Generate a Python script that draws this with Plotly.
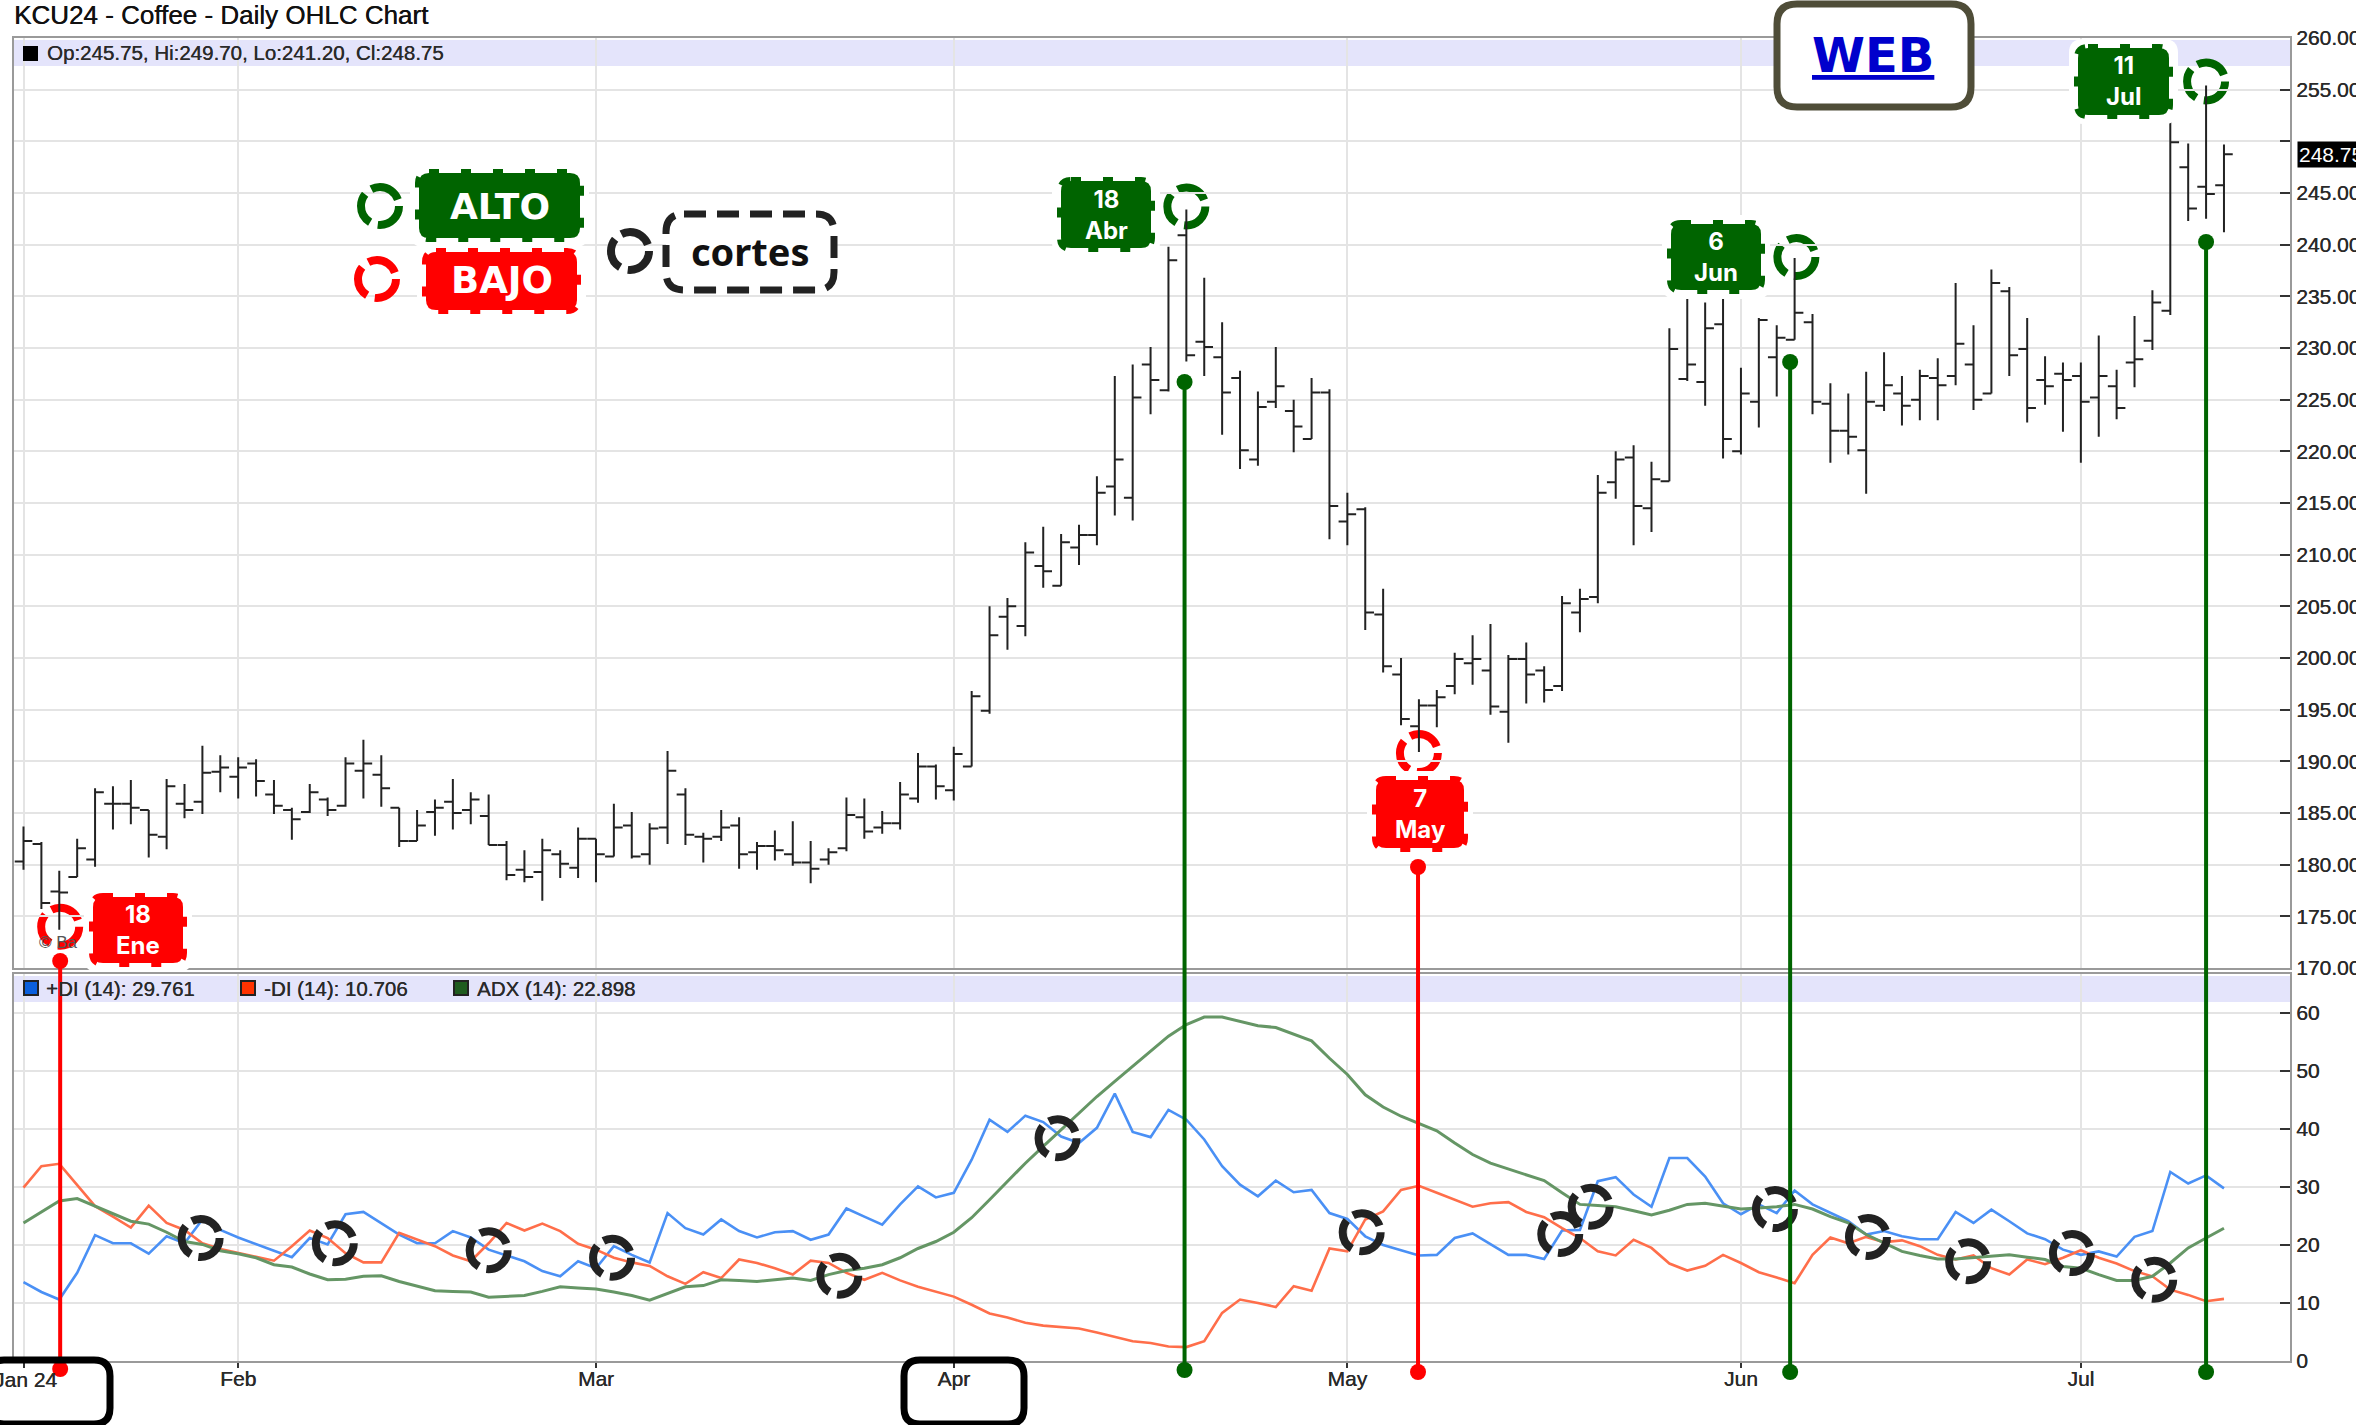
import plotly.graph_objects as go

W, H = 2356, 1425
L, R, T, B = 14, 2290, 38, 1361

title_text = "KCU24 - Coffee - Daily OHLC Chart"
quote_text = "Op:245.75, Hi:249.70, Lo:241.20, Cl:248.75"
last_price = 248.75

open_ = [180.3,182.0,177.4,178.8,180.5,185.9,185.9,185.3,182.7,185.9,
 186.1,189.0,188.5,189.8,186.8,185.3,185.1,186.3,185.7,189.1,
 188.7,185.5,182.3,185.1,186.1,185.3,184.7,181.9,179.5,179.3,
 181.0,179.7,182.5,180.8,183.8,181.0,183.6,186.8,182.7,182.7,
 183.8,181.2,181.8,181.0,180.2,180.5,181.6,184.6,183.6,184.0,
 186.4,189.5,187.2,189.5,194.9,204.0,203.1,208.9,207.0,210.7,
 211.9,216.6,215.5,228.4,225.9,240.9,230.6,229.1,227.1,219.2,
 224.8,223.9,221.2,225.7,213.2,214.4,204.2,198.4,193.4,195.4,
 197.3,199.5,198.8,194.8,199.9,198.8,197.3,204.4,205.9,217.0,
 219.4,214.5,217.1,227.0,226.7,232.3,220.0,224.8,229.1,230.8,
 232.5,224.6,222.0,220.1,224.4,225.6,225.0,227.1,227.3,228.4,
 225.6,235.5,229.9,226.9,227.5,227.3,225.2,226.3,228.6,230.7,
 233.6,247.5,245.6,245.75]
high = [183.7,182.2,179.4,182.5,187.4,187.6,188.2,185.3,188.3,187.8,
 191.5,190.6,190.4,190.2,188.2,185.5,187.8,186.5,190.4,192.1,
 190.6,185.5,185.3,186.3,188.3,187.0,186.8,182.3,181.4,182.5,
 181.4,183.6,182.5,185.9,185.1,184.0,191.0,187.4,183.1,185.3,
 184.6,182.2,183.3,184.2,182.3,181.6,186.5,186.4,185.2,188.0,
 190.8,189.7,191.4,196.8,205.0,205.8,211.2,212.7,212.0,212.9,
 217.6,227.3,228.4,230.1,239.8,243.4,236.8,232.5,227.8,225.8,
 230.1,225.0,227.1,226.0,216.0,214.6,206.7,200.0,196.0,196.9,
 200.5,202.2,203.3,200.3,201.5,199.2,206.0,206.7,217.7,220.0,
 220.6,219.0,231.9,234.8,234.4,234.8,228.1,232.9,232.2,238.7,
 233.3,226.6,225.6,227.7,229.6,227.3,227.9,229.0,236.3,232.2,
 237.6,235.9,232.9,229.2,228.6,228.6,231.2,227.9,233.1,235.6,
 252.0,249.8,255.4,249.7]
low = [179.5,175.7,173.7,178.8,179.8,183.4,183.9,180.7,181.5,184.5,
 184.9,187.0,186.4,186.6,184.9,182.4,185.0,184.7,185.6,186.4,
 185.6,181.7,182.3,182.8,183.4,183.9,181.9,178.5,178.3,176.5,
 178.7,178.7,178.3,180.8,180.6,180.0,182.0,181.9,180.2,182.3,
 179.6,179.5,180.4,179.9,178.2,180.0,181.3,182.5,183.0,183.4,
 186.0,186.3,186.2,189.5,194.6,200.8,202.1,206.8,207.0,209.0,
 210.9,213.8,213.3,223.6,225.8,228.7,227.3,221.6,218.3,218.6,
 224.2,219.9,221.2,211.5,210.9,202.7,198.6,193.5,190.9,193.3,
 196.5,197.4,194.5,191.8,195.6,195.7,196.8,202.5,205.3,215.4,
 210.9,212.2,217.1,226.8,224.4,219.3,219.7,222.3,225.3,230.8,
 223.6,218.9,219.7,215.9,223.9,222.5,223.0,223.0,226.4,224.0,
 225.6,227.3,222.8,224.5,221.9,218.9,221.4,223.1,226.2,229.8,
 233.2,242.3,242.5,241.2]
close = [182.3,176.3,177.3,181.6,187.0,185.9,185.5,182.9,187.6,185.3,
 188.9,189.4,189.4,188.1,185.7,184.4,187.0,185.3,189.8,189.8,
 187.4,182.3,183.8,185.5,185.0,186.3,181.9,179.0,178.8,181.4,
 180.1,182.5,181.0,183.6,180.8,183.5,189.1,182.9,182.5,183.6,
 181.0,181.8,181.4,180.2,179.6,181.2,184.8,183.2,184.0,186.8,
 189.5,187.6,190.7,196.3,202.2,205.0,210.2,208.4,211.2,211.9,
 216.0,219.2,225.2,226.9,238.5,229.3,230.1,225.7,220.1,224.3,
 226.3,222.4,225.7,214.7,213.9,204.4,199.2,194.1,195.4,196.2,
 199.9,199.9,195.3,199.9,198.4,196.9,205.3,205.7,216.0,219.2,
 214.7,217.3,229.9,228.4,231.9,221.2,225.6,232.7,231.0,233.4,
 224.8,222.0,221.4,224.8,226.4,224.4,227.3,226.4,230.4,225.0,
 236.3,229.3,224.2,226.3,226.9,224.8,227.3,224.2,228.9,234.4,
 249.9,243.5,244.9,248.75]

plus_di = [13.6,11.9,10.6,15.2,21.7,20.3,20.3,18.5,21.5,20.3,
 24.4,22.6,21.3,20.1,19.0,17.9,21.2,20.1,25.3,25.7,
 23.8,21.8,20.3,20.3,22.4,21.3,19.2,18.2,17.2,15.5,
 14.6,17.2,16.0,19.8,18.3,17.0,25.5,22.9,21.8,24.4,
 22.4,21.3,22.2,22.4,20.9,21.8,26.3,24.9,23.5,27.0,
 30.1,28.2,29.0,34.7,41.6,39.5,42.3,41.2,38.7,37.6,
 40.2,46.1,39.5,38.6,43.3,41.6,38.2,33.6,30.4,28.4,
 31.1,29.1,29.5,25.5,24.5,21.5,20.0,19.1,18.2,18.3,
 21.2,22.0,20.1,18.3,18.3,17.6,22.5,22.6,31.0,31.7,
 28.7,26.6,35.0,35.0,31.8,27.2,25.3,27.0,25.5,29.4,
 27.0,25.5,24.1,21.8,22.4,21.5,21.0,21.0,25.7,23.8,
 26.1,24.1,22.0,21.0,19.2,18.3,18.9,18.0,21.4,22.4,
 32.6,30.6,32.0,29.761]
minus_di = [29.9,33.6,34.0,30.4,26.7,24.9,23.0,26.8,23.8,22.6,
 20.3,19.3,18.6,18.0,17.3,19.8,22.5,21.2,18.6,17.0,
 17.0,22.1,21.0,19.8,18.2,17.2,20.3,23.8,22.5,23.7,
 22.4,20.2,19.2,17.8,17.0,16.4,14.6,13.3,15.3,14.3,
 17.5,16.9,16.0,14.9,17.3,16.9,15.2,14.0,15.2,13.9,
 12.8,12.0,11.1,9.7,8.2,7.5,6.6,6.1,5.8,5.6,
 4.9,4.1,3.4,3.1,2.5,2.4,3.4,8.3,10.6,10.0,
 9.3,12.9,12.1,19.4,18.9,24.4,25.8,29.5,30.2,29.0,
 27.8,26.6,27.2,27.4,25.7,24.8,22.9,21.2,18.9,18.2,
 20.9,19.5,16.8,15.6,16.4,18.3,16.9,15.3,14.4,13.4,
 18.3,21.3,20.3,21.4,20.5,20.8,19.8,18.3,17.5,18.2,
 16.0,14.9,17.5,16.7,17.8,19.1,17.8,16.8,15.5,14.6,
 12.3,11.4,10.3,10.706]
adx = [23.8,25.7,27.6,28.0,26.7,25.4,24.1,23.6,22.2,20.6,
 20.1,19.0,18.5,17.8,16.6,16.2,15.0,14.0,14.1,14.6,
 14.7,13.7,12.9,12.1,12.0,11.9,11.0,11.1,11.3,12.0,
 12.8,12.6,12.4,11.9,11.3,10.5,11.7,12.8,13.0,14.0,
 13.9,13.7,14.0,14.3,13.9,14.9,15.6,16.0,16.6,17.8,
 19.4,20.6,22.2,24.7,27.8,31.0,34.1,37.0,39.9,42.8,
 45.6,48.2,50.8,53.4,56.0,58.0,59.3,59.3,58.6,57.8,
 57.5,56.3,55.2,52.2,49.4,45.9,43.8,42.2,41.0,39.7,
 37.6,35.6,34.1,33.1,32.0,31.1,29.0,27.0,26.8,26.6,
 25.9,25.2,26.0,27.0,27.2,26.7,26.2,26.4,26.6,27.0,
 26.2,24.9,23.8,21.8,20.3,18.9,18.2,17.6,17.6,17.8,
 18.0,18.3,17.9,17.5,16.3,16.0,14.9,13.9,13.9,14.6,
 16.9,19.5,21.2,22.898]
assert all(len(s) == 124 for s in [open_, high, low, close, plus_di, minus_di, adx])

bars = list(range(124))
month_idx = [0, 12, 32, 52, 74, 96, 115]
month_lbl = ["", "Feb", "Mar", "Apr", "May", "Jun", "Jul"]
first_month_lbl = "Jan 24"
price_ticks = list(range(170, 261, 5))
price_lbl = ["" if v == 250 else f"{v:.2f}" for v in price_ticks]
di_ticks = [0, 10, 20, 30, 40, 50, 60]

event_idx = [2.05, 64.9, 77.95, 98.75, 122]
event_ring_price = [174.0, 243.7, 190.8, 238.8, 255.8]
event_ring_idx = [2.05, 65, 78, 99.1, 122]
event_color = ["#ff0000", "#006400", "#ff0000", "#006400", "#006400"]
event_text = ["18<br>Ene", "18<br>Abr", "7<br>May", "6<br>Jun", "11<br>Jul"]

cross_idx = [9.9, 17.4, 26.0, 32.9, 45.6, 57.8, 74.8, 85.9, 87.6, 97.9, 103.1, 108.7, 114.5, 119.1]
cross_val = [21.2, 20.3, 19.1, 17.8, 14.7, 38.4, 22.2, 21.9, 26.6, 26.2, 21.4, 17.2, 18.6, 14.0]

BLUE, ORANGE, GREEN = "#4a90f5", "#ff6e4a", "#659665"
GRID = "#e4e4e4"
BORDER = "#9a9a9a"
STRIP = "#e4e4fb"
DARK = "#222222"
INK = "#2a2a2a"


def px(x):
    return (x - L) / (R - L)


def py(y):
    return (B - y) / (B - T)


x_lo = (L - 23.5) / 17.89
x_hi = (R - 23.5) / 17.89

fig = go.Figure()
fig.add_trace(go.Ohlc(x=bars, open=open_, high=high, low=low, close=close,
                      xaxis="x", yaxis="y", tickwidth=0.49,
                      increasing=dict(line=dict(color=DARK, width=2)),
                      decreasing=dict(line=dict(color=DARK, width=2)),
                      showlegend=False, hoverinfo="skip"))
for name, vals, col, lw in [("+DI (14)", plus_di, BLUE, 2.6), ("-DI (14)", minus_di, ORANGE, 2.6), ("ADX (14)", adx, GREEN, 3)]:
    fig.add_trace(go.Scatter(x=bars, y=vals, mode="lines", name=name, xaxis="x2", yaxis="y2",
                             line=dict(color=col, width=lw), showlegend=False, hoverinfo="skip"))

shapes = []
annots = []


def note(text, x, y, size=20.5, color=INK, anchor="left", family="Liberation Sans", **font):
    annots.append(dict(text=text, xref="paper", yref="paper", x=px(x), y=py(y), showarrow=False,
                       xanchor=anchor, yanchor="middle", align="center", borderpad=0,
                       font=dict(size=size, color=color, family=family, **font)))


def rrect_path(x0, y0, x1, y1, r):
    a0, a1 = px(x0), px(x1)
    b0, b1 = py(y0), py(y1)
    ax, ay = r / (R - L), r / (B - T)
    return (f"M {a0+ax} {b0} L {a1-ax} {b0} Q {a1} {b0} {a1} {b0-ay} "
            f"L {a1} {b1+ay} Q {a1} {b1} {a1-ax} {b1} "
            f"L {a0+ax} {b1} Q {a0} {b1} {a0} {b1+ay} "
            f"L {a0} {b0-ay} Q {a0} {b0} {a0+ax} {b0} Z")


def box(x0, y0, x1, y1, r, fill, line_color, width, dash="solid"):
    shapes.append(dict(type="path", xref="paper", yref="paper", path=rrect_path(x0, y0, x1, y1, r),
                       fillcolor=fill, line=dict(color=line_color, width=width, dash=dash), layer="above"))


def badge(x0, y0, x1, y1, color):
    box(x0 - 9, y0 - 9, x1 + 9, y1 + 9, 14, "#ffffff", "rgba(0,0,0,0)", 0)
    box(x0, y0, x1, y1, 10, color, color, 8, "10px,22px")


RING_DASH = "32px,8px"


def ring_paper(cx, cy, color):
    r = 19
    shapes.append(dict(type="circle", xref="paper", yref="paper", x0=px(cx - r), x1=px(cx + r),
                       y0=py(cy + r), y1=py(cy - r), fillcolor="rgba(0,0,0,0)",
                       line=dict(color=color, width=8, dash=RING_DASH), layer="above"))


def ring_data(i, v, color, xref, yref, layer):
    shapes.append(dict(type="circle", xref=xref, yref=yref, xsizemode="pixel", ysizemode="pixel",
                       xanchor=i, yanchor=v, x0=-19, x1=19, y0=-19, y1=19, fillcolor="rgba(0,0,0,0)",
                       line=dict(color=color, width=8, dash=RING_DASH), layer=layer))


# header strips
for y0, y1 in [(40, 66), (976, 1002)]:
    shapes.append(dict(type="rect", xref="paper", yref="paper", x0=0, x1=1, y0=py(y1), y1=py(y0),
                       fillcolor=STRIP, line=dict(width=0), layer="below"))

# rings on the high / low bars (under the bars)
for i, p, c in zip(event_ring_idx, event_ring_price, event_color):
    ring_data(i, p, c, "x", "y", "below")

# crossover rings on the DMI panel
for i, v in zip(cross_idx, cross_val):
    ring_data(i, v, DARK, "x2", "y2", "above")

# vertical event lines with end dots
tops_px = [961, 382, 867, 362, 242]
bottom_px = [1369, 1370, 1372, 1372, 1372]
for i, c, yt, yb in zip(event_idx, event_color, tops_px, bottom_px):
    shapes.append(dict(type="line", xref="x", yref="paper", x0=i, x1=i, y0=py(yb), y1=py(yt),
                       line=dict(color=c, width=4), layer="above"))
    for y in (yt, yb):
        shapes.append(dict(type="circle", xref="x", yref="paper", xsizemode="pixel", ysizemode="pixel",
                           xanchor=i, yanchor=py(y), x0=-8, x1=8, y0=-8, y1=8, fillcolor=c,
                           line=dict(width=0), layer="above"))

# legend colour squares
for x0, col in [(24, "#0a5fdc"), (241, "#ff3300"), (454, "#1f5c1f")]:
    shapes.append(dict(type="rect", xref="paper", yref="paper", x0=px(x0), x1=px(x0 + 14), y0=py(995),
                       y1=py(981), fillcolor=col, line=dict(color=DARK, width=2), layer="above"))
shapes.append(dict(type="rect", xref="paper", yref="paper", x0=px(23), x1=px(38), y0=py(61), y1=py(46),
                   fillcolor="#000000", line=dict(width=0), layer="above"))

# month call-out boxes
box(-12, 1360, 110, 1424, 16, "rgba(0,0,0,0)", "#000000", 7)
box(904, 1360, 1024, 1424, 16, "rgba(0,0,0,0)", "#000000", 7)

# legend call-outs
badge(419, 173, 580, 238, "#006400")
badge(426, 252, 577, 310, "#ff0000")
box(666, 214, 834, 290, 18, "#ffffff", DARK, 7, "22px,11px")
box(1777, 4, 1971, 107, 20, "#ffffff", "#4f4d38", 7)
ring_paper(380, 206, "#006400")
ring_paper(377, 279, "#ff0000")
ring_paper(630, 251, DARK)

# date badges
badge_boxes = [(93, 897, 183, 963), (1061, 181, 1151, 248), (1376, 780, 1464, 848),
               (1671, 224, 1761, 290), (2078, 48, 2169, 115)]
for b, c in zip(badge_boxes, event_color):
    badge(*b, c)

# texts
note(title_text, 13, 15, size=26, color="#111111", shadow="0.4px 0 0 #111111")
note(quote_text, 46, 53, size=20.5, shadow="0.3px 0 0 #2a2a2a")
note("+DI (14): 29.761", 45, 988, shadow="0.3px 0 0 #2a2a2a")
note("-DI (14): 10.706", 263, 988, shadow="0.3px 0 0 #2a2a2a")
note("ADX (14): 22.898", 476, 988, shadow="0.3px 0 0 #2a2a2a")
note("© Ba", 38, 942, size=17, color="#555555")
note(first_month_lbl, 58, 1379, size=21, anchor="right", shadow="0.3px 0 0 #2a2a2a")
FANCY = "Inter"
WIDE = "DejaVu Sans"
note("ALTO", 499.5, 206, size=36, color="#ffffff", anchor="center", family=WIDE, weight=700)
note("BAJO", 501.5, 280, size=37, color="#ffffff", anchor="center", family=WIDE, weight=700)
note("cortes", 750, 251, size=38, color="#111111", anchor="center", family="Noto Sans", weight=700)
note("WEB", 1873, 55, size=48, color="#0000cc", anchor="center", family=WIDE, weight=700, lineposition="under")
for b, t in zip(badge_boxes, event_text):
    note(t, (b[0] + b[2]) / 2, (b[1] + b[3]) / 2, size=24, color="#ffffff", anchor="center", family=FANCY, weight=700)

# last price flag
annots.append(dict(text=f"{last_price:.2f}", xref="paper", yref="y", x=px(2297), y=last_price, showarrow=False,
                   xanchor="left", yanchor="middle", bgcolor="#000000", borderpad=1,
                   font=dict(size=21, color="#ffffff", family="Liberation Sans")))

axis_font = dict(size=21, color=INK, family="Liberation Sans", shadow="0.3px 0 0 #2a2a2a")
top_domain = [(B - 968) / (B - T), 1]
low_domain = [0, (B - 974) / (B - T)]
common_x = dict(range=[x_lo, x_hi], tickmode="array", tickvals=month_idx, showgrid=True, gridcolor=GRID,
                gridwidth=2, zeroline=False, showline=True, linecolor=BORDER, linewidth=2, mirror=True)
common_y = dict(side="right", anchor="x", showgrid=True, gridcolor=GRID, gridwidth=2, zeroline=False,
                showline=True, linecolor=BORDER, linewidth=2, mirror=True, ticks="inside", ticklen=10,
                tickwidth=2, tickcolor="#333333", tickfont=axis_font)

fig.update_layout(
    width=W, height=H, margin=dict(l=L, r=W - R, t=T, b=H - B, autoexpand=False),
    paper_bgcolor="#ffffff", plot_bgcolor="#ffffff", showlegend=False,
    xaxis=dict(domain=[0, 1], anchor="y", showticklabels=False, ticks="", rangeslider=dict(visible=False), **common_x),
    xaxis2=dict(domain=[0, 1], anchor="y2", ticktext=month_lbl, ticks="outside", ticklen=5, tickwidth=2,
                tickcolor="#333333", tickfont=axis_font, ticklabelstandoff=-7, **common_x),
    yaxis=dict(domain=top_domain, range=[170, 260], tickmode="array", tickvals=price_ticks, ticktext=price_lbl, **common_y),
    yaxis2=dict(domain=low_domain, range=[0, (B - 974) / 5.8], tickmode="array", tickvals=di_ticks,
                **{**common_y, "anchor": "x2"}),
    shapes=shapes, annotations=annots,
)

fig.write_html("out.html", config={"displayModeBar": False},
               post_script="document.body.style.margin='0';document.body.style.overflow='hidden';")
